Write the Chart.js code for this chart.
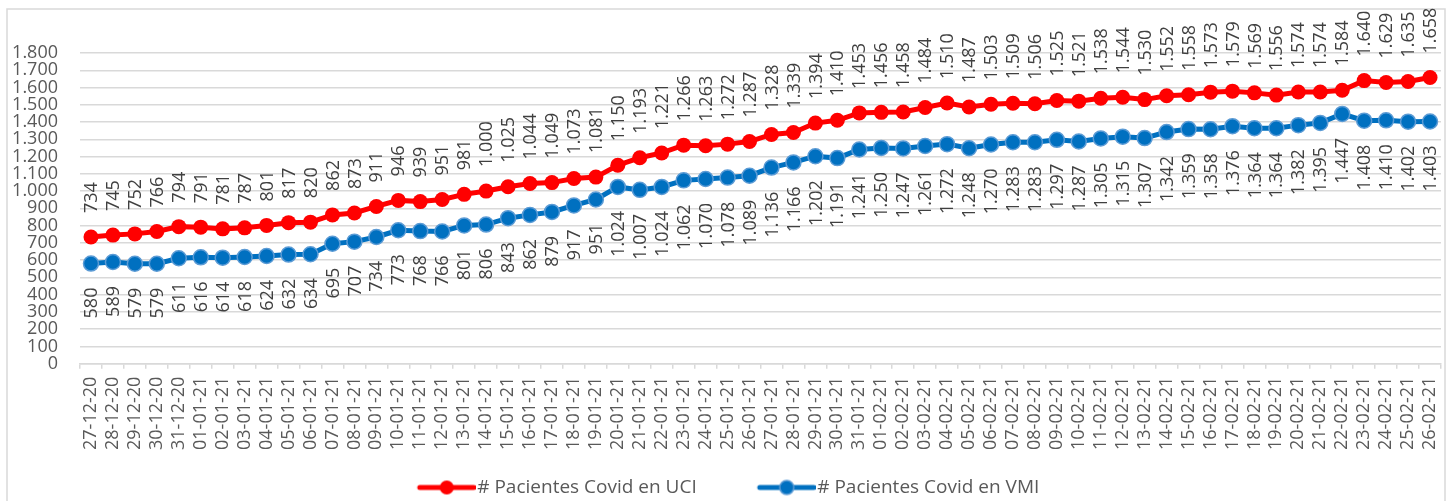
<!DOCTYPE html>
<html lang="es">
<head>
    <meta charset="UTF-8">
    <title>Pacientes Covid en UCI y VMI</title>
    <script src="https://cdn.jsdelivr.net/npm/chart.js@4"></script>
    <style>
        html, body { margin: 0; padding: 0; background: #fff; }
        .wrap { position: relative; width: 1450px; height: 501px; }
    </style>
</head>
<body>
<div class="wrap"><canvas id="covidChart" width="1450" height="501"></canvas></div>

<script>
    // fechas (eje x)
    const fechas = [
        '27-12-20', '28-12-20', '29-12-20', '30-12-20', '31-12-20',
        '01-01-21', '02-01-21', '03-01-21', '04-01-21', '05-01-21', '06-01-21', '07-01-21', '08-01-21',
        '09-01-21', '10-01-21', '11-01-21', '12-01-21', '13-01-21', '14-01-21', '15-01-21', '16-01-21',
        '17-01-21', '18-01-21', '19-01-21', '20-01-21', '21-01-21', '22-01-21', '23-01-21', '24-01-21',
        '25-01-21', '26-01-21', '27-01-21', '28-01-21', '29-01-21', '30-01-21', '31-01-21',
        '01-02-21', '02-02-21', '03-02-21', '04-02-21', '05-02-21', '06-02-21', '07-02-21', '08-02-21',
        '09-02-21', '10-02-21', '11-02-21', '12-02-21', '13-02-21', '14-02-21', '15-02-21', '16-02-21',
        '17-02-21', '18-02-21', '19-02-21', '20-02-21', '21-02-21', '22-02-21', '23-02-21', '24-02-21',
        '25-02-21', '26-02-21'
    ];

    const pacientesUCI = [
        734, 745, 752, 766, 794, 791, 781, 787, 801, 817, 820, 862, 873, 911, 946, 939,
        951, 981, 1000, 1025, 1044, 1049, 1073, 1081, 1150, 1193, 1221, 1266, 1263, 1272, 1287, 1328,
        1339, 1394, 1410, 1453, 1456, 1458, 1484, 1510, 1487, 1503, 1509, 1506, 1525, 1521, 1538, 1544,
        1530, 1552, 1558, 1573, 1579, 1569, 1556, 1574, 1574, 1584, 1640, 1629, 1635, 1658
    ];

    const pacientesVMI = [
        580, 589, 579, 579, 611, 616, 614, 618, 624, 632, 634, 695, 707, 734, 773, 768,
        766, 801, 806, 843, 862, 879, 917, 951, 1024, 1007, 1024, 1062, 1070, 1078, 1089, 1136,
        1166, 1202, 1191, 1241, 1250, 1247, 1261, 1272, 1248, 1270, 1283, 1283, 1297, 1287, 1305, 1315,
        1307, 1342, 1359, 1358, 1376, 1364, 1364, 1382, 1395, 1447, 1408, 1410, 1402, 1403
    ];

    const series = ['# Pacientes Covid en UCI', '# Pacientes Covid en VMI'];

    const ejeY = { min: 0, max: 1800, paso: 100 };

    const ROJO = '#ff0000';
    const AZUL = '#0070c0';
    const AZUL_BORDE = '#5b9bd5';
    const GRIS = '#d9d9d9';
    const TEXTO = '#595959';

    // 1800 -> "1.800"
    const fmt = v => String(v).replace(/\B(?=(\d{3})+(?!\d))/g, '.');

    Chart.defaults.font.family = "'Open Sans', sans-serif";
    Chart.defaults.font.size = 18;
    Chart.defaults.color = TEXTO;

    // muestra de leyenda: linea con circulo (a la derecha del hueco)
    function muestra(color, borde) {
        const c = document.createElement('canvas');
        c.width = 116;
        c.height = 18;
        const g = c.getContext('2d');
        g.strokeStyle = color;
        g.lineWidth = 5;
        g.lineCap = 'round';
        g.beginPath();
        g.moveTo(60, 9);
        g.lineTo(114, 9);
        g.stroke();
        g.beginPath();
        g.arc(87, 9, 7, 0, Math.PI * 2);
        g.fillStyle = color;
        g.fill();
        if (borde) {
            g.lineWidth = 1.5;
            g.strokeStyle = borde;
            g.stroke();
        }
        return c;
    }
    const muestras = [muestra(ROJO), muestra(AZUL, AZUL_BORDE)];

    // marco exterior + ajuste de la leyenda
    const marco = {
        id: 'marco',
        afterLayout(chart) {
            chart.legend.left -= 24;
            chart.legend.right -= 24;
        },
        beforeDraw(chart) {
            const ctx = chart.ctx;
            ctx.save();
            ctx.strokeStyle = GRIS;
            ctx.lineWidth = 1.5;
            ctx.strokeRect(7, 9, 1438, 500);
            ctx.restore();
        }
    };

    // etiquetas de datos verticales: UCI encima, VMI debajo
    const etiquetas = {
        id: 'etiquetas',
        afterDatasetsDraw(chart) {
            const ctx = chart.ctx;
            ctx.save();
            ctx.font = "18px 'Open Sans', sans-serif";
            ctx.fillStyle = '#404040';
            ctx.textBaseline = 'middle';
            chart.data.datasets.forEach((ds, i) => {
                const arriba = i === 0;
                chart.getDatasetMeta(i).data.forEach((pt, j) => {
                    ctx.save();
                    ctx.translate(pt.x, arriba ? pt.y - 24 : pt.y + 24);
                    ctx.rotate(-Math.PI / 2);
                    ctx.textAlign = arriba ? 'left' : 'right';
                    ctx.fillText(fmt(ds.data[j]), 0, 1);
                    ctx.restore();
                });
            });
            ctx.restore();
        }
    };

    const ctx = document.getElementById('covidChart').getContext('2d');

    const covidChart = new Chart(ctx, {
        type: 'line',
        data: {
            labels: fechas,
            datasets: [
                {
                    label: series[0],
                    data: pacientesUCI,
                    borderColor: ROJO,
                    backgroundColor: ROJO,
                    borderWidth: 5,
                    pointRadius: 7.5,
                    pointBorderWidth: 0,
                    pointBackgroundColor: ROJO,
                    tension: 0
                },
                {
                    label: series[1],
                    data: pacientesVMI,
                    borderColor: AZUL,
                    backgroundColor: AZUL,
                    borderWidth: 5,
                    pointRadius: 7.5,
                    pointBorderWidth: 1.5,
                    pointBorderColor: AZUL_BORDE,
                    pointBackgroundColor: AZUL,
                    tension: 0
                }
            ]
        },
        options: {
            responsive: false,
            animation: false,
            devicePixelRatio: 1,
            layout: {
                padding: { left: 12, right: 7, top: 53, bottom: -6 }
            },
            scales: {
                x: {
                    offset: true,
                    grid: {
                        offset: true,
                        drawOnChartArea: false,
                        tickLength: 5,
                        color: GRIS,
                        lineWidth: 1.5
                    },
                    border: { color: GRIS, width: 1.5 },
                    ticks: {
                        autoSkip: false,
                        maxRotation: 90,
                        minRotation: 90,
                        padding: 8,
                        color: TEXTO,
                        font: { size: 18, lineHeight: 0.5 }
                    },
                    afterFit(scale) {
                        scale.height += 9;
                    }
                },
                y: {
                    min: ejeY.min,
                    max: ejeY.max,
                    grid: { color: GRIS, lineWidth: 1.5, drawTicks: false },
                    border: { display: false },
                    ticks: {
                        stepSize: ejeY.paso,
                        autoSkip: false,
                        padding: 22,
                        color: TEXTO,
                        callback: v => fmt(v)
                    },
                    afterFit(scale) {
                        scale.width = 68;
                    }
                }
            },
            plugins: {
                tooltip: { enabled: false },
                legend: {
                    position: 'bottom',
                    labels: {
                        usePointStyle: true,
                        pointStyleWidth: 100,
                        padding: 11,
                        color: TEXTO,
                        font: { size: 19 },
                        generateLabels(chart) {
                            const items = Chart.defaults.plugins.legend.labels.generateLabels(chart);
                            items.forEach((it, i) => { it.pointStyle = muestras[i]; });
                            return items;
                        }
                    }
                }
            }
        },
        plugins: [marco, etiquetas]
    });
</script>
</body>
</html>
